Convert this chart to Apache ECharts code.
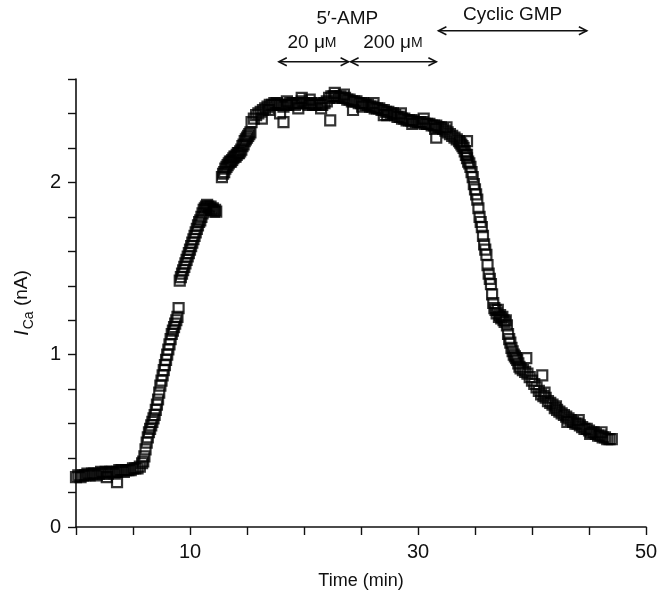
<!DOCTYPE html>
<html><head><meta charset="utf-8">
<script src="https://cdn.jsdelivr.net/npm/echarts@6/dist/echarts.min.js"></script>
<style>html,body{margin:0;padding:0;background:#fff}#c{width:662px;height:595px}</style>
</head><body><div id="c"></div>
<script>
// [time (min), I_Ca (nA)]
const baseline = [[0.0,0.29],[0.2,0.30],[0.4,0.29],[0.6,0.30],[0.8,0.30],[1.0,0.31],[1.2,0.30],[1.4,0.31],[1.6,0.31],[1.8,0.30],[2.0,0.31],[2.2,0.32],[2.4,0.31],[2.6,0.32],[2.8,0.31],[3.0,0.32],[3.2,0.32],[3.4,0.31],[3.6,0.32],[3.8,0.33],[4.0,0.33],[4.2,0.32],[4.4,0.33],[4.6,0.33],[4.8,0.33],[5.0,0.34],[5.2,0.34],[5.4,0.34],[5.6,0.35],[5.8,0.37],[2.7,0.29],[3.6,0.26]];
const rise1 = [[5.9,0.38],[6.0,0.41],[6.1,0.45],[6.2,0.49],[6.3,0.52],[6.4,0.55],[6.5,0.57],[6.6,0.59],[6.7,0.61],[6.8,0.63],[6.9,0.65],[7.0,0.68],[7.1,0.71],[7.2,0.74],[7.3,0.78],[7.4,0.82],[7.5,0.85],[7.6,0.88],[7.7,0.91],[7.8,0.94],[7.9,0.97],[8.0,1.00],[8.1,1.03],[8.2,1.06],[8.3,1.09],[8.4,1.12],[8.5,1.14],[8.6,1.16],[8.7,1.18],[8.8,1.20],[8.9,1.22],[9.0,1.27]];
const rise2 = [[9.1,1.43],[9.2,1.45],[9.3,1.47],[9.4,1.49],[9.5,1.51],[9.6,1.53],[9.7,1.55],[9.8,1.57],[9.9,1.59],[10.0,1.61],[10.1,1.63],[10.2,1.65],[10.3,1.67],[10.4,1.69],[10.5,1.71],[10.6,1.73],[10.7,1.75],[10.8,1.77],[10.9,1.78],[11.0,1.80],[11.1,1.82],[11.2,1.84],[11.3,1.85],[11.4,1.86],[11.5,1.87],[11.6,1.86],[11.7,1.85],[11.8,1.86],[11.9,1.84],[12.0,1.85],[12.1,1.83],[12.2,1.84],[12.3,1.83]];
const rise3 = [[12.8,2.03],[12.9,2.05],[13.0,2.06],[13.1,2.08],[13.2,2.09],[13.3,2.10],[13.4,2.11],[13.5,2.12],[13.6,2.12],[13.7,2.13],[13.8,2.14],[13.9,2.15],[14.0,2.15],[14.1,2.16],[14.2,2.17],[14.3,2.17],[14.4,2.18],[14.5,2.19],[14.6,2.21],[14.7,2.22],[14.8,2.24],[14.9,2.25],[15.0,2.26],[15.1,2.27],[15.2,2.28],[15.3,2.29]];
const plateau = [[15.4,2.35],[15.6,2.37],[15.8,2.39],[16.0,2.40],[16.2,2.41],[16.4,2.42],[16.6,2.43],[16.8,2.44],[17.0,2.45],[17.2,2.45],[17.4,2.46],[17.6,2.46],[17.8,2.45],[18.0,2.45],[18.2,2.44],[18.4,2.45],[18.6,2.45],[18.8,2.46],[19.0,2.46],[19.2,2.45],[19.4,2.46],[19.6,2.46],[19.8,2.47],[20.0,2.46],[20.2,2.46],[20.4,2.45],[20.6,2.46],[20.8,2.45],[21.0,2.45],[21.2,2.46],[21.4,2.45],[21.6,2.45],[21.8,2.46],[22.0,2.47],[22.2,2.49],[22.4,2.50],[22.6,2.50],[22.8,2.50],[23.0,2.49],[23.2,2.50],[23.4,2.49],[23.6,2.49],[23.8,2.48],[24.0,2.48],[24.2,2.47],[24.4,2.47],[24.6,2.47],[24.8,2.46],[25.0,2.46],[25.2,2.46],[25.4,2.45],[25.6,2.45],[25.8,2.44],[26.0,2.44],[26.2,2.43],[26.4,2.43],[26.6,2.43],[26.8,2.42],[27.0,2.42],[27.2,2.41],[27.4,2.41],[27.6,2.40],[27.8,2.40],[28.0,2.39],[28.2,2.38],[28.4,2.38],[28.6,2.37],[28.8,2.37],[29.0,2.36],[29.2,2.36],[29.4,2.36],[29.6,2.36],[29.8,2.35],[30.0,2.35],[30.2,2.35],[30.4,2.35],[30.6,2.34],[30.8,2.34],[31.0,2.34],[31.2,2.33],[31.4,2.33],[31.6,2.33],[31.8,2.32],[32.0,2.32],[32.2,2.31],[32.4,2.30],[32.6,2.29],[32.8,2.28],[33.0,2.27],[33.2,2.26],[33.4,2.25],[33.6,2.24]];
const plateauJitter = [[16.9,2.42],[18.5,2.47],[19.5,2.43],[20.5,2.48],[21.5,2.43],[22.7,2.52],[23.5,2.51],[25.1,2.44],[26.1,2.46],[27.3,2.39],[28.5,2.40],[29.5,2.34],[30.5,2.37],[31.5,2.31],[32.5,2.32]];
const plateauOutliers = [[16.3,2.37],[17.9,2.40],[18.2,2.35],[19.8,2.49],[22.3,2.36],[24.3,2.42],[27.0,2.39],[31.6,2.26],[34.3,2.24],[34.3,2.16]];
const decline = [[33.7,2.23],[33.8,2.22],[33.9,2.21],[34.0,2.20],[34.1,2.18],[34.2,2.16],[34.3,2.14],[34.4,2.12],[34.5,2.11],[34.6,2.09],[34.7,2.06],[34.8,2.03],[34.9,1.99],[35.0,1.96],[35.1,1.93],[35.2,1.90],[35.3,1.85],[35.4,1.80],[35.5,1.77],[35.6,1.74],[35.7,1.69],[35.8,1.64],[35.9,1.61],[36.0,1.58],[36.1,1.52],[36.2,1.47],[36.3,1.44],[36.4,1.41],[36.5,1.35],[36.6,1.30],[36.7,1.27],[36.8,1.26],[36.9,1.24],[37.0,1.26],[37.1,1.22],[37.2,1.23],[37.3,1.21],[37.4,1.22],[37.5,1.20],[37.6,1.19],[37.7,1.20],[37.8,1.17],[37.9,1.12],[38.0,1.09],[38.1,1.07],[38.2,1.04],[38.3,1.02]];
const tail = [[38.4,1.00],[38.5,0.99],[38.6,0.98],[38.7,0.97],[38.8,0.95],[38.9,0.93],[39.0,0.92],[39.2,0.91],[39.4,0.90],[39.6,0.89],[39.8,0.87],[40.0,0.85],[40.2,0.83],[40.4,0.81],[40.6,0.79],[40.8,0.77],[41.0,0.76],[41.2,0.75],[41.4,0.73],[41.6,0.72],[41.8,0.71],[42.0,0.69],[42.2,0.68],[42.4,0.67],[42.6,0.66],[42.8,0.65],[43.0,0.64],[43.2,0.63],[43.4,0.62],[43.6,0.61],[43.8,0.60],[44.0,0.60],[44.2,0.59],[44.4,0.58],[44.6,0.57],[44.8,0.57],[45.0,0.56],[45.2,0.55],[45.4,0.55],[45.6,0.54],[45.8,0.53],[46.0,0.53],[46.2,0.52],[46.4,0.52],[46.6,0.51],[46.8,0.51],[47.0,0.51],[39.5,0.98],[40.9,0.88],[41.1,0.78],[42.1,0.70],[43.1,0.61],[44.1,0.62],[45.1,0.54],[46.1,0.55]];

const xTickLabels = ['10','30','50'];
const yTickLabels = ['0','1','2'];

// annotation arrows: [from time, to time, level (nA)]
const arrowSpans = [[17.7,24.0,2.70],[24.0,31.7,2.70],[31.7,44.9,2.88]];
// annotation texts: [text, time, level]
const noteTexts = [["5′-AMP",23.8,2.95],["20 μ{s|M}",20.7,2.81],["200 μ{s|M}",27.8,2.81],["Cyclic GMP",38.3,2.97]];

const FONT = '"Liberation Sans", Arial, Helvetica, sans-serif';
const chart = echarts.init(document.getElementById('c'), null, {renderer:'canvas'});
const allPoints = [].concat(baseline, rise1, rise2, rise3, plateau, plateauJitter, plateauOutliers, decline, tail);

chart.setOption({
  animation:false,
  backgroundColor:'#fff',
  grid:{left:76,right:16,top:79,bottom:68,containLabel:false},
  xAxis:{type:'value',min:0,max:50,interval:5,
    axisLine:{show:true,lineStyle:{color:'#111',width:1.6}},
    axisTick:{show:true,inside:false,length:8,lineStyle:{color:'#111',width:1.4}},
    axisLabel:{color:'#111',fontSize:20,fontFamily:FONT,margin:15,
      formatter:v=>xTickLabels.includes(String(Math.round(v))) && Math.abs(v-Math.round(v))<1e-6 ? String(Math.round(v)) : ''},
    splitLine:{show:false},
    name:'Time (min)',nameLocation:'middle',nameGap:45,
    nameTextStyle:{color:'#111',fontSize:18,fontFamily:FONT}
  },
  yAxis:{type:'value',min:0,max:2.6,interval:0.2,
    axisLine:{show:true,lineStyle:{color:'#111',width:1.6}},
    axisTick:{show:true,inside:false,length:8,lineStyle:{color:'#111',width:1.4}},
    axisLabel:{color:'#111',fontSize:20,fontFamily:FONT,margin:15,
      formatter:v=>(Math.abs(v-Math.round(v))<1e-6 && yTickLabels.includes(String(Math.round(v)))) ? String(Math.round(v)) : ''},
    splitLine:{show:false},
    name:'{i|I}{s|Ca}{n| (nA)}',nameLocation:'middle',nameGap:40,
    nameTextStyle:{color:'#111',fontFamily:FONT,fontSize:19,
      rich:{
        i:{fontStyle:'italic',fontSize:20,fontFamily:FONT,color:'#111',lineHeight:28,verticalAlign:'middle'},
        s:{fontSize:14,fontFamily:FONT,color:'#111',lineHeight:28,verticalAlign:'bottom',padding:[0,0,0,1]},
        n:{fontSize:19,fontFamily:FONT,color:'#111',lineHeight:28,verticalAlign:'middle'}
      }}
  },
  series:[{type:'scatter',data:allPoints,symbol:'rect',symbolSize:10,
    itemStyle:{color:'rgba(0,0,0,0)',borderColor:'#000',borderWidth:2.2},
    emphasis:{disabled:true},silent:true}]
});

const px = (t,v)=>chart.convertToPixel({gridIndex:0},[t,v]);
const elems = [];
const stroke = {stroke:'#111',lineWidth:1.5,fill:null};
arrowSpans.forEach(a=>{
  const p1 = px(a[0],a[2]), p2 = px(a[1],a[2]);
  const y = p1[1];
  elems.push({type:'polyline',shape:{points:[[p1[0]+1,y],[p2[0]-1,y]]},style:stroke});
  elems.push({type:'polyline',shape:{points:[[p1[0]+9,y-4],[p1[0]+1,y],[p1[0]+9,y+4]]},style:stroke});
  elems.push({type:'polyline',shape:{points:[[p2[0]-9,y-4],[p2[0]-1,y],[p2[0]-9,y+4]]},style:stroke});
});
noteTexts.forEach(n=>{
  const p = px(n[1],n[2]);
  elems.push({type:'text',x:p[0],y:p[1],style:{text:n[0],fill:'#111',font:'19px '+FONT,
    align:'center',verticalAlign:'middle',rich:{s:{fontSize:14,fontFamily:FONT,fill:'#111'}}}});
});
chart.setOption({graphic:elems});
</script></body></html>
